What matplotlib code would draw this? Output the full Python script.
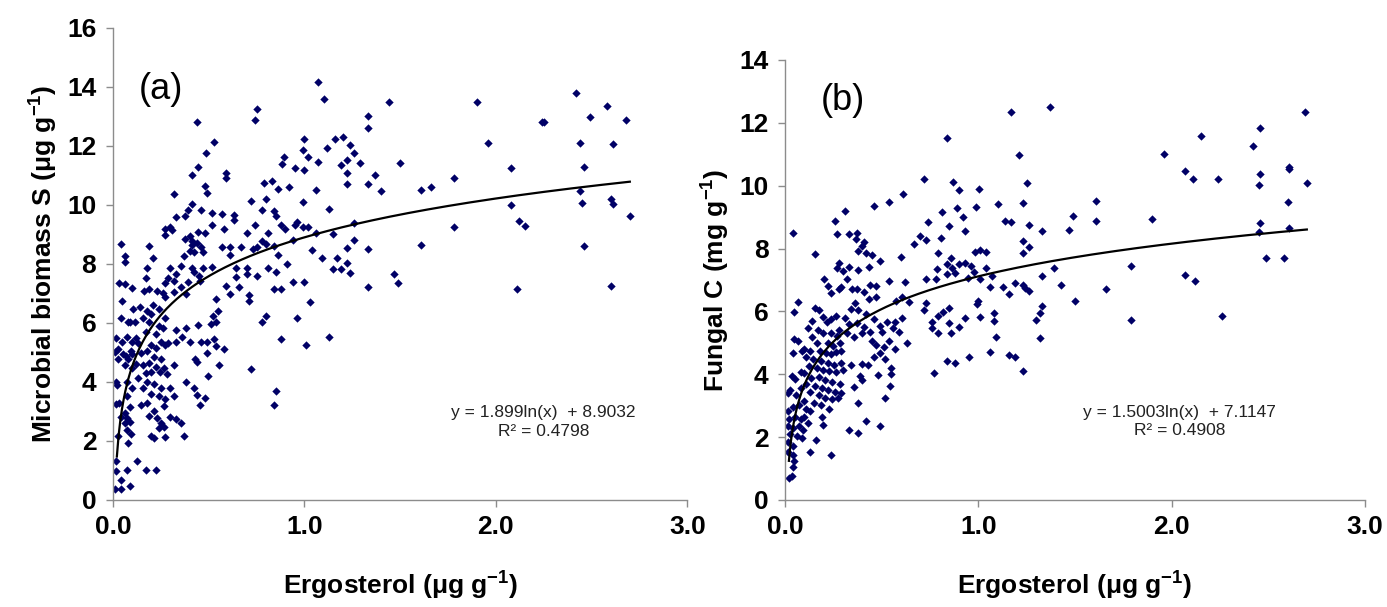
import numpy as np
import matplotlib.pyplot as plt

plt.rcParams['font.family'] = ['Liberation Sans', 'DejaVu Sans']
plt.rcParams['mathtext.fontset'] = 'custom'
plt.rcParams['mathtext.rm'] = 'Liberation Sans'
plt.rcParams['mathtext.bf'] = 'Liberation Sans:bold'

# (a) ergosterol vs microbial biomass S
pts_a = np.array([
    (1.07, 14.18), (1.10, 13.59), (1.0, 12.25), (0.995, 11.86), (1.02, 11.64), (1.0, 11.18),
    (1.07, 11.47), (1.06, 10.52), (1.12, 11.93), (1.16, 12.25), (1.20, 12.29), (1.24, 12.03),
    (1.22, 11.53), (1.19, 11.35), (1.26, 11.77), (1.22, 11.07), (1.22, 10.72), (1.29, 11.43),
    (1.33, 13.0), (1.33, 12.6), (1.37, 11.0), (1.40, 10.48), (1.33, 10.71), (1.44, 13.5),
    (1.50, 11.44), (1.13, 9.87), (1.26, 9.40), (1.26, 8.82), (1.22, 8.55), (1.15, 9.02),
    (1.06, 9.04), (1.04, 8.48), (1.09, 8.19), (1.17, 8.19), (1.15, 7.82), (1.19, 7.82),
    (1.22, 8.05), (1.24, 7.71), (1.33, 8.52), (1.33, 7.21), (1.47, 7.67), (1.49, 7.34),
    (1.13, 5.53), (1.01, 5.24), (1.0, 7.38), (1.03, 6.72), (1.61, 8.65), (1.61, 10.52),
    (1.66, 10.62), (1.78, 10.92), (1.78, 9.27), (1.90, 13.5), (1.96, 12.1), (2.08, 11.27),
    (2.08, 10.0), (2.12, 9.46), (2.15, 9.28), (2.11, 7.14), (2.24, 12.8), (2.25, 12.8),
    (2.42, 13.79), (2.44, 12.1), (2.46, 11.3), (2.44, 10.48), (2.45, 10.07), (2.46, 8.62),
    (2.49, 12.97), (2.58, 13.34), (2.61, 12.08), (2.60, 10.2), (2.61, 10.03), (2.60, 7.27),
    (2.68, 12.87), (2.70, 9.61),
    (0.75, 13.24), (0.74, 12.87), (0.44, 12.82), (0.885, 11.40), (0.895, 11.63), (0.95, 11.27),
    (0.83, 10.81), (0.79, 10.75), (0.86, 10.55), (0.92, 10.62), (0.99, 10.09), (0.72, 10.13),
    (0.80, 10.20), (0.78, 9.83), (0.84, 9.79), (0.85, 9.61), (0.88, 9.31), (0.96, 9.44),
    (0.95, 9.33), (0.99, 9.24), (1.02, 9.27), (0.90, 9.17), (0.74, 9.33), (0.70, 9.04),
    (0.81, 9.04), (0.94, 8.82), (0.78, 8.78), (0.80, 8.68), (0.75, 8.58), (0.73, 8.52),
    (0.67, 8.56), (0.84, 8.61), (0.86, 8.32), (0.91, 7.99), (0.81, 7.86), (0.85, 7.73),
    (0.70, 7.86), (0.70, 7.65), (0.75, 7.58), (0.64, 7.56), (0.94, 7.40), (0.66, 7.21),
    (0.71, 6.95), (0.71, 6.75), (0.84, 7.14), (0.88, 7.14), (0.61, 6.97), (0.80, 6.23),
    (0.78, 6.03), (0.96, 6.16), (0.88, 5.47), (0.72, 4.43), (0.85, 3.70), (0.84, 3.21),
    (0.53, 12.12), (0.485, 11.77), (0.445, 11.30), (0.41, 11.01), (0.59, 11.07), (0.59, 10.92),
    (0.48, 10.64), (0.49, 10.42), (0.32, 10.38), (0.415, 10.03), (0.39, 9.83), (0.46, 9.82),
    (0.515, 9.72), (0.57, 9.70), (0.63, 9.67), (0.375, 9.63), (0.33, 9.59), (0.515, 9.33),
    (0.63, 9.50), (0.295, 9.27), (0.31, 9.15), (0.27, 9.17), (0.58, 9.17), (0.445, 9.07),
    (0.48, 9.04), (0.40, 8.95), (0.27, 8.98), (0.375, 8.85), (0.415, 8.78), (0.44, 8.72),
    (0.41, 8.65), (0.46, 8.58), (0.40, 8.45), (0.425, 8.39), (0.47, 8.41), (0.37, 8.26),
    (0.57, 8.56), (0.61, 8.58), (0.61, 8.32), (0.64, 7.86), (0.515, 7.89), (0.47, 7.86),
    (0.41, 7.86), (0.356, 7.93), (0.30, 7.86), (0.33, 7.67), (0.285, 7.54), (0.32, 7.44),
    (0.27, 7.37), (0.425, 7.73), (0.45, 7.60), (0.455, 7.44), (0.39, 7.40), (0.356, 7.23),
    (0.32, 7.05), (0.38, 6.97), (0.27, 6.88), (0.536, 6.82), (0.59, 7.27), (0.55, 6.42),
    (0.52, 6.23), (0.54, 6.03), (0.51, 5.96), (0.445, 5.94), (0.38, 5.83), (0.33, 5.77),
    (0.36, 5.53), (0.40, 5.37), (0.46, 5.37), (0.53, 5.47), (0.49, 5.37), (0.54, 5.22),
    (0.58, 5.11), (0.49, 4.98), (0.43, 4.78), (0.44, 4.69), (0.555, 4.59), (0.496, 4.19),
    (0.38, 4.0), (0.32, 4.59), (0.425, 3.80), (0.44, 3.56), (0.48, 3.47), (0.455, 3.21),
    (0.32, 3.54), (0.37, 2.16), (0.30, 3.80), (0.285, 5.31), (0.33, 5.37), (0.27, 6.16),
    (0.26, 5.83),
    (0.19, 8.62), (0.21, 8.19), (0.18, 7.86), (0.17, 7.54), (0.19, 7.14), (0.16, 7.10),
    (0.23, 7.08), (0.26, 7.01), (0.10, 7.18), (0.105, 6.49), (0.14, 6.55), (0.18, 6.42),
    (0.21, 6.62), (0.24, 6.49), (0.20, 6.29), (0.157, 6.16), (0.117, 6.05), (0.087, 6.03),
    (0.19, 6.03), (0.24, 5.90), (0.227, 5.64), (0.17, 5.70), (0.12, 5.50), (0.10, 5.37),
    (0.13, 5.31), (0.20, 5.27), (0.25, 5.37), (0.27, 5.24), (0.227, 5.14), (0.18, 5.05),
    (0.145, 4.98), (0.10, 4.95), (0.07, 4.88), (0.215, 4.85), (0.25, 4.78), (0.19, 4.65),
    (0.157, 4.59), (0.12, 4.61), (0.10, 4.48), (0.227, 4.52), (0.267, 4.46), (0.20, 4.35),
    (0.244, 4.33), (0.28, 4.26), (0.17, 4.30), (0.13, 4.13), (0.18, 4.0), (0.215, 3.93),
    (0.25, 3.80), (0.157, 3.80), (0.20, 3.60), (0.24, 3.54), (0.274, 3.41), (0.18, 3.28),
    (0.145, 3.21), (0.267, 3.17), (0.215, 3.01), (0.19, 2.86), (0.23, 2.78), (0.30, 2.82),
    (0.33, 2.75), (0.356, 2.62), (0.25, 2.62), (0.24, 2.45), (0.267, 2.49), (0.27, 2.12),
    (0.20, 2.16), (0.215, 2.10), (0.126, 1.31), (0.17, 1.02), (0.227, 1.02), (0.075, 1.02),
    (0.04, 8.68), (0.06, 8.26), (0.06, 8.06), (0.03, 7.34), (0.06, 7.31), (0.045, 6.74),
    (0.04, 6.16), (0.08, 6.03), (0.016, 5.50), (0.047, 5.37), (0.075, 5.53), (0.026, 5.11),
    (0.01, 5.0), (0.05, 4.95), (0.094, 5.05), (0.08, 4.78), (0.028, 4.78), (0.06, 4.59),
    (0.016, 4.0), (0.023, 3.91), (0.075, 4.0), (0.10, 3.80), (0.075, 3.51), (0.033, 3.28),
    (0.014, 3.25), (0.087, 3.15), (0.063, 2.95), (0.04, 2.82), (0.075, 2.78), (0.09, 2.65),
    (0.06, 2.60), (0.075, 2.36), (0.094, 2.23), (0.028, 2.16), (0.08, 1.94), (0.014, 1.31),
    (0.016, 0.98), (0.04, 0.68), (0.012, 0.37), (0.04, 0.37), (0.09, 0.46),
])

# (b) ergosterol vs fungal C
pts_b = np.array([
    (1.37, 12.50), (1.17, 12.35), (2.69, 12.35), (0.84, 11.53), (2.15, 11.58), (2.46, 11.82),
    (2.42, 11.27), (1.21, 10.99), (1.96, 11.0), (2.07, 10.46), (2.11, 10.20), (2.24, 10.22),
    (2.46, 10.37), (2.45, 10.02), (2.61, 10.59), (2.61, 10.52), (2.70, 10.10), (1.25, 10.10),
    (1.006, 9.89), (0.87, 10.12), (0.90, 9.85), (0.72, 10.20), (0.99, 9.32), (0.89, 9.30),
    (0.92, 8.99), (0.81, 9.16), (1.10, 9.42), (1.23, 9.46), (1.61, 9.52), (1.90, 8.95),
    (1.49, 9.05), (1.14, 8.89), (1.17, 8.83), (1.61, 8.87), (2.60, 9.47), (0.74, 8.84),
    (0.73, 8.26), (0.70, 8.41), (0.665, 8.15), (0.85, 8.72), (0.805, 8.35), (0.93, 8.57),
    (1.26, 8.74), (1.23, 8.23), (1.26, 8.04), (1.23, 7.86), (1.33, 8.57), (1.47, 8.60),
    (2.45, 8.52), (2.46, 8.81), (2.61, 8.65), (2.49, 7.70), (2.58, 7.71), (0.79, 7.86),
    (0.985, 7.88), (1.01, 7.94), (1.04, 7.88), (0.93, 7.55), (0.96, 7.45), (0.90, 7.51),
    (0.86, 7.70), (0.865, 7.39), (0.84, 7.51), (0.786, 7.35), (0.98, 7.24), (1.04, 7.39),
    (1.07, 7.12), (0.88, 7.23), (0.84, 7.20), (0.78, 7.02), (0.73, 7.04), (0.945, 7.06),
    (1.01, 7.02), (1.06, 6.77), (1.13, 6.77), (1.19, 6.90), (1.23, 6.83), (1.24, 6.75),
    (1.26, 6.65), (1.33, 7.14), (1.39, 7.39), (1.43, 6.83), (1.66, 6.71), (1.79, 7.45),
    (2.07, 7.17), (2.12, 6.96), (1.50, 6.34), (1.00, 6.33), (0.995, 6.24), (1.16, 6.56),
    (1.33, 6.16), (1.32, 5.94), (1.30, 5.73), (1.79, 5.73), (2.26, 5.85), (0.73, 6.26),
    (0.72, 6.03), (0.815, 5.97), (0.85, 6.12), (0.79, 5.85), (0.76, 5.67), (0.85, 5.63),
    (0.76, 5.46), (0.79, 5.30), (0.93, 5.79), (1.01, 5.81), (1.08, 5.69), (1.08, 5.96),
    (0.86, 5.32), (0.90, 5.50), (1.09, 5.20), (1.32, 5.14), (1.06, 4.70), (1.16, 4.62),
    (1.19, 4.56), (0.95, 4.54), (0.84, 4.43), (0.88, 4.37), (0.77, 4.04), (1.23, 4.10),
    (0.61, 9.73), (0.54, 9.47), (0.46, 9.36), (0.31, 9.2), (0.256, 8.88), (0.27, 8.47),
    (0.33, 8.47), (0.37, 8.50), (0.365, 8.30), (0.41, 8.21), (0.40, 8.09), (0.38, 7.91),
    (0.42, 7.86), (0.45, 7.78), (0.49, 7.61), (0.60, 7.73), (0.435, 7.41), (0.38, 7.33),
    (0.33, 7.41), (0.28, 7.54), (0.27, 7.39), (0.30, 7.27), (0.32, 7.02), (0.29, 6.77),
    (0.28, 6.71), (0.345, 6.71), (0.37, 6.71), (0.41, 6.63), (0.44, 6.83), (0.47, 6.81),
    (0.54, 6.96), (0.62, 6.93), (0.605, 6.47), (0.64, 6.31), (0.575, 6.34), (0.36, 6.28),
    (0.435, 6.40), (0.47, 6.47), (0.34, 6.08), (0.38, 6.03), (0.42, 5.91), (0.46, 5.76),
    (0.49, 5.54), (0.53, 5.67), (0.57, 5.67), (0.605, 5.79), (0.31, 5.79), (0.33, 5.60),
    (0.37, 5.64), (0.41, 5.50), (0.44, 5.36), (0.50, 5.34), (0.56, 5.48), (0.59, 5.36),
    (0.28, 5.42), (0.32, 5.30), (0.356, 5.17), (0.40, 5.30), (0.45, 5.05), (0.47, 4.93),
    (0.51, 4.86), (0.54, 5.05), (0.57, 4.80), (0.63, 4.99), (0.49, 4.68), (0.46, 4.56),
    (0.515, 4.49), (0.40, 4.33), (0.34, 4.31), (0.43, 4.31), (0.48, 3.97), (0.55, 4.0),
    (0.55, 4.19), (0.39, 3.94), (0.40, 3.82), (0.356, 3.60), (0.515, 3.26), (0.545, 3.63),
    (0.38, 3.08), (0.33, 2.22), (0.38, 2.12), (0.42, 2.50), (0.49, 2.34),
    (0.156, 7.82), (0.204, 7.02), (0.22, 6.80), (0.238, 6.59), (0.156, 6.10), (0.175, 6.03),
    (0.197, 5.81), (0.215, 5.66), (0.24, 5.76), (0.265, 5.85), (0.14, 5.69), (0.118, 5.48),
    (0.17, 5.42), (0.197, 5.30), (0.24, 5.32), (0.27, 5.23), (0.14, 5.17), (0.163, 4.99),
    (0.22, 4.99), (0.247, 4.90), (0.283, 4.99), (0.10, 4.80), (0.13, 4.74), (0.18, 4.74),
    (0.21, 4.68), (0.238, 4.66), (0.265, 4.70), (0.29, 4.74), (0.107, 4.56), (0.147, 4.49),
    (0.186, 4.43), (0.224, 4.37), (0.254, 4.31), (0.288, 4.37), (0.125, 4.25), (0.163, 4.19),
    (0.197, 4.13), (0.23, 4.09), (0.265, 4.06), (0.30, 4.13), (0.10, 4.04), (0.134, 3.88),
    (0.174, 3.92), (0.208, 3.82), (0.242, 3.76), (0.283, 3.69), (0.107, 3.69), (0.156, 3.63),
    (0.193, 3.57), (0.224, 3.51), (0.26, 3.45), (0.29, 3.39), (0.13, 3.45), (0.174, 3.33),
    (0.208, 3.26), (0.242, 3.20), (0.276, 3.23), (0.15, 3.08), (0.186, 3.02), (0.10, 3.14),
    (0.13, 2.83), (0.107, 2.89), (0.23, 2.89), (0.10, 2.65), (0.193, 2.65), (0.118, 2.46),
    (0.197, 2.40), (0.16, 1.91), (0.13, 1.54), (0.24, 1.44),
    (0.04, 8.50), (0.045, 5.97), (0.066, 6.31), (0.048, 5.11), (0.066, 5.07), (0.04, 4.68),
    (0.088, 4.74), (0.034, 3.94), (0.05, 3.84), (0.084, 4.06), (0.016, 3.39), (0.027, 3.51),
    (0.057, 3.33), (0.08, 3.57), (0.016, 2.83), (0.04, 2.96), (0.073, 3.02), (0.023, 2.59),
    (0.05, 2.65), (0.084, 2.59), (0.016, 2.34), (0.043, 2.28), (0.073, 2.34), (0.095, 2.22),
    (0.027, 2.09), (0.06, 2.03), (0.088, 1.97), (0.016, 1.85), (0.043, 1.72), (0.016, 1.54),
    (0.04, 1.42), (0.045, 1.23), (0.04, 1.05), (0.023, 0.71), (0.034, 0.76),
])

# logarithmic trend lines (Excel fit shown on the chart)
fit_a = (1.899, 8.9032, 0.4798)
fit_b = (1.5003, 7.1147, 0.4908)

ylabel_a = r'Microbial biomass S (μg g$^{\mathbf{-1}}$)'
ylabel_b = r'Fungal C (mg g$^{\mathbf{-1}}$)'
xlabel = r'Ergosterol (μg g$^{\mathbf{-1}}$)'

fig = plt.figure(figsize=(13.87, 6.07), dpi=100)
ax_a = fig.add_axes([0.0815, 0.1763, 0.414, 0.7776])
ax_b = fig.add_axes([0.566, 0.1763, 0.418, 0.725])

panels = [
    (ax_a, pts_a, fit_a, 16, ylabel_a, '(a)', (0.25, 13.9), (2.25, 2.65)),
    (ax_b, pts_b, fit_b, 14, ylabel_b, '(b)', (0.3, 12.7), (2.04, 2.5)),
]

for ax, pts, fit, ymax, ylab, tag, tagpos, eqpos in panels:
    ax.scatter(pts[:, 0], pts[:, 1], marker='D', s=18, color='#000066', linewidths=0, zorder=2)
    xx = np.linspace(0.02, 2.7, 300)
    ax.plot(xx, fit[0] * np.log(xx) + fit[1], color='black', lw=1.6, zorder=3)

    ax.set_xlim(0, 3)
    ax.set_ylim(0, ymax)
    ax.set_xticks([0, 1, 2, 3])
    ax.set_xticklabels(['0.0', '1.0', '2.0', '3.0'])
    ax.set_yticks(np.arange(0, ymax + 1, 2))
    for s in ['top', 'right']:
        ax.spines[s].set_visible(False)
    for s in ['left', 'bottom']:
        ax.spines[s].set_color('#8c8c8c')
        ax.spines[s].set_linewidth(1.0)
    ax.tick_params(colors='#8c8c8c', length=5, width=1, labelcolor='black',
                   labelsize=19)
    ax.tick_params(axis='x', pad=6)
    ax.tick_params(axis='y', pad=7)
    for lab in ax.get_xticklabels() + ax.get_yticklabels():
        lab.set_fontweight('bold')

    ax.set_ylabel(ylab, fontsize=19, fontweight='bold', labelpad=6)
    ax.set_xlabel(xlabel, fontsize=19, fontweight='bold', labelpad=21)

    ax.text(tagpos[0], tagpos[1], tag, fontsize=26, ha='center', va='center')
    eq = 'y = %sln(x)  + %s\nR² = %s' % (fit[0], fit[1], fit[2])
    ax.text(eqpos[0], eqpos[1], eq, fontsize=12.5, ha='center', va='center',
            linespacing=1.3, color='#222222')

fig.savefig('out.png', dpi=100)
